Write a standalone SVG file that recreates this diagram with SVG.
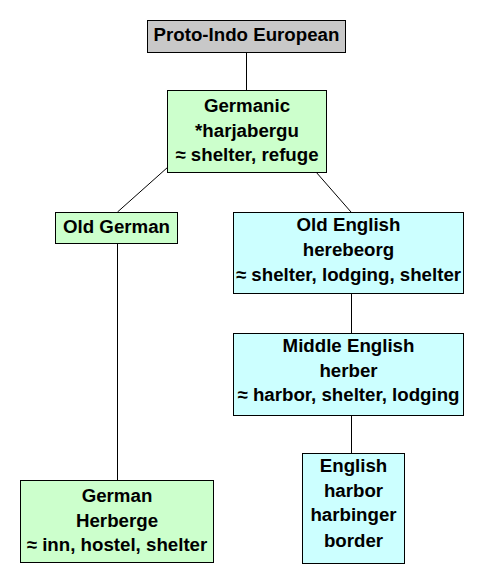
<svg xmlns="http://www.w3.org/2000/svg" width="490" height="582" viewBox="0 0 490 582">
<style>
.box{stroke:#000;stroke-width:1}
.g{fill:#CCFFCC}.c{fill:#CCFFFF}.p{fill:#C8C8C8}
text{font-family:"Liberation Sans",Arial,sans-serif;font-weight:bold;font-size:18.7px;text-anchor:middle;fill:#000}
.ln{stroke:#000;stroke-width:1;fill:none}
</style>
<rect width="490" height="582" fill="#fff"/>
<g id="connectors">
<line class="ln" x1="246.5" y1="52" x2="246.5" y2="90"/>
<line class="ln" x1="117.5" y1="212" x2="168" y2="167"/>
<line class="ln" x1="316" y1="172" x2="351" y2="212"/>
<line class="ln" x1="117.5" y1="243" x2="117.5" y2="480"/>
<line class="ln" x1="351.5" y1="293" x2="351.5" y2="333"/>
<line class="ln" x1="351.5" y1="415" x2="351.5" y2="453"/>
</g>
<g id="pie">
<rect class="box p" x="147.5" y="20.5" width="198" height="32"/>
<text x="246.5" y="41">Proto-Indo European</text>
</g>
<g id="germanic">
<rect class="box g" x="167.5" y="90.5" width="159" height="82"/>
<text x="247" y="112">Germanic</text>
<text x="247" y="137">*harjabergu</text>
<text x="247" y="161">≈ shelter, refuge</text>
</g>
<g id="oldgerman">
<rect class="box g" x="55.5" y="212.5" width="122" height="31"/>
<text x="116.5" y="233">Old German</text>
</g>
<g id="oldenglish">
<rect class="box c" x="233.5" y="212.5" width="230" height="81"/>
<text x="348.5" y="231">Old English</text>
<text x="348.5" y="256">herebeorg</text>
<text x="348.5" y="281">≈ shelter, lodging, shelter</text>
</g>
<g id="middleenglish">
<rect class="box c" x="233.5" y="333.5" width="230" height="82"/>
<text x="348.5" y="352">Middle English</text>
<text x="348.5" y="377">herber</text>
<text x="348.5" y="401">≈ harbor, shelter, lodging</text>
</g>
<g id="english">
<rect class="box c" x="302.5" y="453.5" width="102" height="110"/>
<text x="353.5" y="472">English</text>
<text x="353.5" y="497">harbor</text>
<text x="353.5" y="521">harbinger</text>
<text x="353.5" y="547">border</text>
</g>
<g id="german">
<rect class="box g" x="20.5" y="480.5" width="193" height="82"/>
<text x="117" y="502">German</text>
<text x="117" y="527">Herberge</text>
<text x="117" y="551">≈ inn, hostel, shelter</text>
</g>
</svg>
